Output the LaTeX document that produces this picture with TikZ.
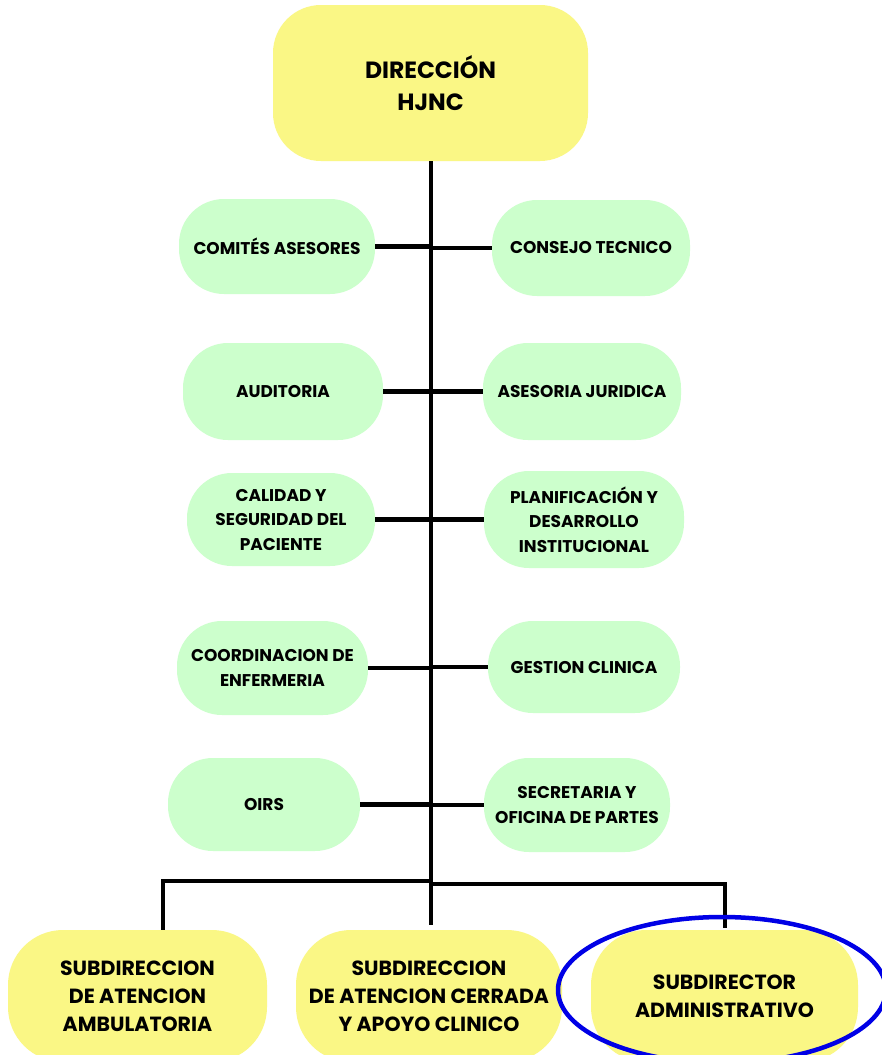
\documentclass[tikz,border=0pt]{standalone}
\usepackage{fontspec}
\setmainfont{Poppins}
\definecolor{boxyellow}{RGB}{250,247,133}
\definecolor{boxgreen}{RGB}{204,255,204}
\definecolor{ringblue}{RGB}{0,0,230}
\begin{document}
\begin{tikzpicture}[x=1pt,y=1pt,
  gbox/.style={fill=boxgreen, rounded corners=45pt, align=center, inner sep=1pt,
    font=\fontsize{17}{24.5}\selectfont\bfseries},
  ybox/.style={fill=boxyellow, rounded corners=55pt, align=center, inner sep=1pt,
    font=\fontsize{20.5}{28}\selectfont\bfseries},
  link/.style={line width=4.5pt},
  bus/.style={line width=4pt}]
\useasboundingbox (0,0) rectangle (882,-1055);
\clip (0,0) rectangle (882,-1055);
\fill[white] (0,0) rectangle (882,-1055);
% top
\node[fill=boxyellow, rounded corners=48pt, minimum width=315pt, minimum height=156pt,
  align=center, font=\fontsize{23.5}{32}\selectfont\bfseries] (dir) at (430.5,-83) {DIRECCIÓN\\HJNC};
% green boxes
\node[gbox, minimum width=196pt, minimum height=95pt] (ca) at (277,-246.5) {COMITÉS ASESORES};
\node[gbox, minimum width=198pt, minimum height=96pt] (ct) at (591,-248) {CONSEJO TECNICO};
\node[gbox, minimum width=200pt, minimum height=97pt] (aud) at (283,-391.5) {AUDITORIA};
\node[gbox, minimum width=198pt, minimum height=97pt] (aj) at (582,-391.5) {ASESORIA JURIDICA};
\node[gbox, minimum width=188pt, minimum height=93pt] (cal) at (281,-519.5) {CALIDAD Y\\SEGURIDAD DEL\\PACIENTE};
\node[gbox, minimum width=200pt, minimum height=97pt] (plan) at (584,-519.5) {PLANIFICACIÓN Y\\DESARROLLO\\INSTITUCIONAL};
\node[gbox, minimum width=191pt, minimum height=94pt] (coord) at (272.5,-668) {COORDINACION DE\\ENFERMERIA};
\node[gbox, minimum width=192pt, minimum height=92pt] (gest) at (584,-667) {GESTION CLINICA};
\node[gbox, minimum width=192pt, minimum height=93pt] (oirs) at (264,-804.5) {OIRS};
\node[gbox, minimum width=186pt, minimum height=94pt] (sec) at (577,-805) {SECRETARIA Y\\OFICINA DE PARTES};
% bottom boxes
\node[ybox, minimum width=259pt, minimum height=132pt] (sa) at (137.5,-996) {SUBDIRECCION\\DE ATENCION\\AMBULATORIA};
\node[ybox, minimum width=266pt, minimum height=132pt] (sm) at (429,-996) {SUBDIRECCION\\DE ATENCION CERRADA\\Y APOYO CLINICO};
\node[ybox, minimum width=267pt, minimum height=132pt] (sr) at (724.5,-996) {SUBDIRECTOR\\ADMINISTRATIVO};
% spine
\coordinate (spineend) at (431,-925);
\coordinate (busL) at (163,-881);
\coordinate (busC) at (431,-881);
\coordinate (busCR) at (431,-884);
\coordinate (busR) at (725,-884);
\draw[link] (dir.south -| spineend) -- (spineend);
% side links
\foreach \l/\r in {ca/ct, aud/aj, cal/plan, coord/gest, oirs/sec}{
  \draw[link] (\l.east) -- (\l.east -| spineend);
  \draw[link] (\r.west -| spineend) -- (\r.west);
}
% bus
\draw[bus] (sa.north -| busL) -- (busL) -- (busC);
\draw[bus] (busCR) -- (busR) -- ([yshift=2pt]sr.north -| busR);
% ring
\draw[ringblue, line width=4.5pt] (722,-990) ellipse (164pt and 73pt);
\end{tikzpicture}
\end{document}
